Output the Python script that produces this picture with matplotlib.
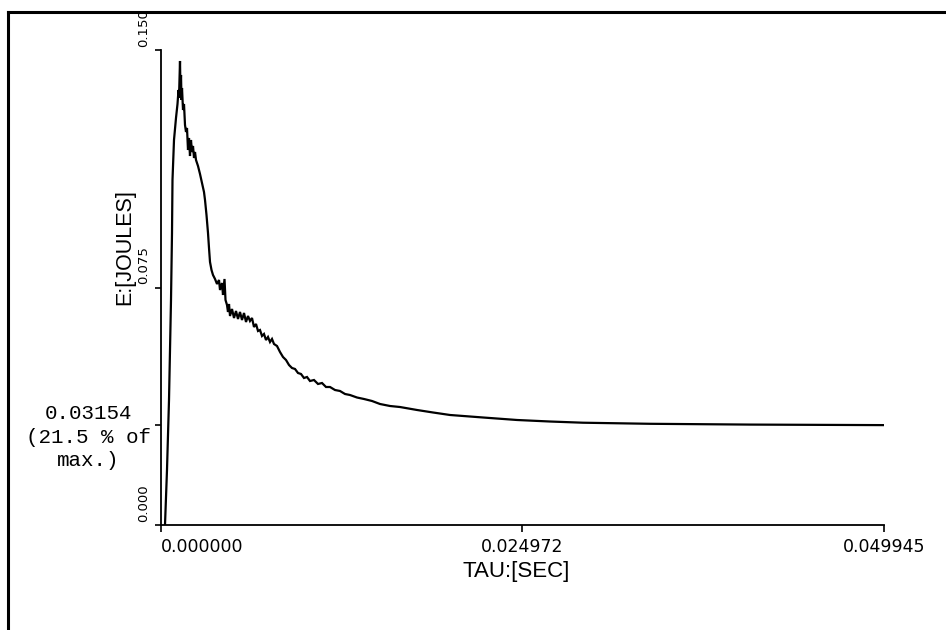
import matplotlib
matplotlib.use("Agg")
import matplotlib.pyplot as plt
from matplotlib.lines import Line2D
from matplotlib import font_manager

# ---- data ----
tau_sec = [
    0.000276, 0.000414, 0.000553, 0.000691, 0.000760, 0.000794, 0.000898, 0.001036,
    0.001140, 0.001209, 0.001243, 0.001313, 0.001347, 0.001382, 0.001416, 0.001451,
    0.001520, 0.001589, 0.001658, 0.001727, 0.001796, 0.001865, 0.001934, 0.002003,
    0.002072, 0.002141, 0.002211, 0.002280, 0.002349, 0.002418, 0.002556, 0.002694,
    0.002832, 0.002970, 0.003040, 0.003143, 0.003247, 0.003316, 0.003385, 0.003489,
    0.003592, 0.003731, 0.003869, 0.004007, 0.004076, 0.004214, 0.004283, 0.004387,
    0.004456, 0.004559, 0.004628, 0.004698, 0.004767, 0.004905, 0.005043, 0.005181,
    0.005319, 0.005457, 0.005596, 0.005734, 0.005872, 0.006010, 0.006148, 0.006286,
    0.006424, 0.006563, 0.006701, 0.006839, 0.006977, 0.007115, 0.007253, 0.007392,
    0.007530, 0.007668, 0.007806, 0.008013, 0.008221, 0.008428, 0.008635, 0.008842,
    0.009049, 0.009257, 0.009464, 0.009671, 0.009878, 0.010086, 0.010293, 0.010569,
    0.010846, 0.011122, 0.011398, 0.011675, 0.012020, 0.012365, 0.012711, 0.013056,
    0.013540, 0.014023, 0.014576, 0.015129, 0.015819, 0.016510, 0.017684, 0.018790,
    0.019964, 0.022244, 0.024592, 0.026872, 0.029152, 0.033780, 0.040688, 0.049945,
]
energy_joules = [
    0.00000, 0.01737, 0.03948, 0.07106, 0.09221, 0.10895, 0.12158, 0.12853,
    0.13295, 0.13737, 0.13485, 0.14653, 0.13674, 0.14211, 0.13422, 0.13800,
    0.13106, 0.13295, 0.12632, 0.12411, 0.12537, 0.11843, 0.12221, 0.11653,
    0.12158, 0.11779, 0.11969, 0.11590, 0.11779, 0.11527, 0.11337, 0.11085,
    0.10800, 0.10516, 0.10264, 0.09790, 0.09221, 0.08747, 0.08306, 0.08053,
    0.07895, 0.07769, 0.07611, 0.07737, 0.07421, 0.07642, 0.07264, 0.07769,
    0.07106, 0.06948, 0.06727, 0.06979, 0.06600, 0.06821, 0.06537, 0.06758,
    0.06506, 0.06727, 0.06474, 0.06695, 0.06411, 0.06600, 0.06443, 0.06537,
    0.06253, 0.06348, 0.06127, 0.06158, 0.05969, 0.06032, 0.05842, 0.05937,
    0.05779, 0.05874, 0.05716, 0.05653, 0.05463, 0.05305, 0.05211, 0.05053,
    0.04958, 0.04927, 0.04800, 0.04769, 0.04642, 0.04674, 0.04547, 0.04579,
    0.04453, 0.04484, 0.04358, 0.04358, 0.04263, 0.04232, 0.04137, 0.04105,
    0.04026, 0.03979, 0.03916, 0.03821, 0.03758, 0.03726, 0.03632, 0.03553,
    0.03474, 0.03395, 0.03316, 0.03268, 0.03230, 0.03196, 0.03171, 0.03154,
]
x_ticks = [0.0, 0.024972, 0.049945]
x_tick_labels = ["0.000000", "0.024972", "0.049945"]
y_ticks = [0.0, 0.075, 0.150]
y_tick_labels = ["0.000", "0.075", "0.150"]
final_value = 0.03154
final_label = "0.03154\n(21.5 % of\nmax.)"
x_label = "TAU:[SEC]"
y_label = "E:[JOULES]"

# pick a narrow sans if one exists
names = {f.name for f in font_manager.fontManager.ttflist}
if "Liberation Sans Narrow" in names:
    label_font, label_size = "Liberation Sans Narrow", 18
else:
    label_font, label_size = "Liberation Sans", 15.5

# ---- figure ----
W, H = 946, 630
fig = plt.figure(figsize=(W / 100, H / 100), dpi=100)
fig.patch.set_facecolor("white")
ax = fig.add_axes([161 / W, 1 - 525 / H, (884 - 161) / W, (525 - 50) / H])
ax.set_facecolor("white")

ax.plot(tau_sec, energy_joules, color="black", lw=1.6, solid_joinstyle="miter")

ax.set_xlim(x_ticks[0], x_ticks[-1])
ax.set_ylim(y_ticks[0], y_ticks[-1])
for s in ("top", "right"):
    ax.spines[s].set_visible(False)
for s in ("left", "bottom"):
    ax.spines[s].set_linewidth(1.3)
    ax.spines[s].set_color("black")

# x ticks
ax.set_xticks(x_ticks)
ax.set_xticklabels(x_tick_labels, fontsize=12.5, family="DejaVu Sans")
ax.tick_params(axis="x", direction="out", length=5, width=1.2, pad=4)
xl = ax.get_xticklabels()
xl[0].set_ha("left")

# y ticks (labels drawn rotated)
ax.set_yticks(y_ticks + [final_value])
ax.tick_params(axis="y", direction="out", length=4, width=1.2, labelleft=False)
for v, lab in zip(y_ticks, y_tick_labels):
    ax.text(-0.0245, v + 0.0010, lab, transform=ax.get_yaxis_transform(),
            rotation=90, ha="center", va="bottom", fontsize=9.5, family="DejaVu Sans")

ax.text(-0.0495, 0.585, y_label, transform=ax.transAxes, rotation=90,
        ha="center", va="center", fontsize=label_size, family=label_font)
ax.text(0.4915, -0.097, x_label, transform=ax.transAxes,
        ha="center", va="center", fontsize=label_size + 0.5, family=label_font)

ax.text(-0.1005, final_value + 0.0066, final_label, transform=ax.get_yaxis_transform(),
        ha="center", va="top", multialignment="center", fontsize=15,
        family=["Liberation Mono", "DejaVu Sans Mono"], linespacing=1.3)

# scanned page frame (top and left edges)
fig.add_artist(Line2D([8 / W, 1.0], [1 - 12 / H, 1 - 12 / H], transform=fig.transFigure,
                      color="black", lw=2.2))
fig.add_artist(Line2D([8 / W, 8 / W], [0.0, 1 - 12 / H], transform=fig.transFigure,
                      color="black", lw=2.2))

fig.savefig("out.png", dpi=100, facecolor="white")
